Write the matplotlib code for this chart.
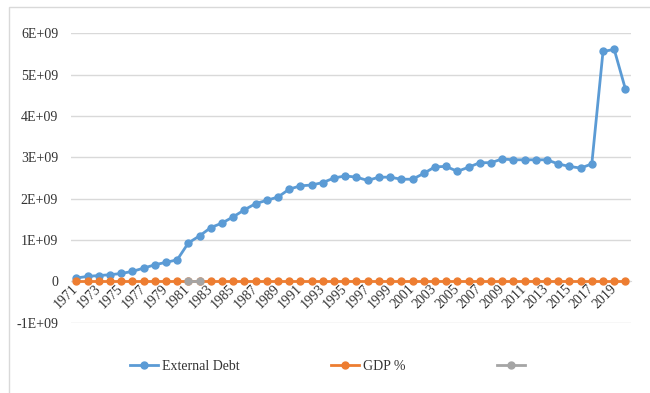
import numpy as np
import matplotlib.pyplot as plt
from matplotlib.patches import Rectangle

plt.rcParams["font.family"] = ["Liberation Serif", "DejaVu Serif"]

years = list(range(1971, 2021))

external_debt = [
    0.08, 0.12, 0.14, 0.16, 0.19, 0.24, 0.32, 0.40, 0.46, 0.52,
    0.93, 1.10, 1.30, 1.41, 1.56, 1.73, 1.88, 1.96, 2.04, 2.23,
    2.31, 2.33, 2.39, 2.50, 2.55, 2.52, 2.44, 2.52, 2.52, 2.47,
    2.47, 2.61, 2.77, 2.78, 2.66, 2.76, 2.87, 2.87, 2.96, 2.94,
    2.94, 2.94, 2.94, 2.84, 2.78, 2.74, 2.84, 5.56, 5.61, 4.65,
]
external_debt = [v * 1e9 for v in external_debt]

gdp_pct = [0.0] * len(years)

# third series only has the two early-80s entries
third = [np.nan] * len(years)
third[years.index(1981)] = 0.0
third[years.index(1982)] = 0.0

blue = "#5B9BD5"
orange = "#ED7D31"
grey = "#A5A5A5"
txt = "#333333"

fig = plt.figure(figsize=(6.5, 3.93), dpi=100)
ax = fig.add_axes([0.1088, 0.1789, 0.862, 0.7364])

x = np.arange(len(years))
ax.plot(x, external_debt, color=blue, lw=2, marker="o", ms=5, label="External Debt", zorder=3)
ax.plot(x, gdp_pct, color=orange, lw=2, marker="o", ms=5, label="GDP %", zorder=3)
ax.plot(x, third, color=grey, lw=2, marker="o", ms=5, label=" ", zorder=4)

# category axis crosses at zero (this resets the ticks, so do it first)
for s in ["top", "right", "left"]:
    ax.spines[s].set_visible(False)
ax.spines["bottom"].set_position(("data", 0))
ax.spines["bottom"].set_color("#D9D9D9")

ax.set_xlim(-0.5, len(years) - 0.5)
ax.set_ylim(-1e9, 6e9)

yt = np.arange(-1e9, 6.5e9, 1e9)
ax.set_yticks(yt)
ax.set_yticklabels(["-1E+09", "0", "1E+09", "2E+09", "3E+09", "4E+09", "5E+09", "6E+09"])
ax.grid(axis="y", color="#D9D9D9", lw=1)
ax.set_axisbelow(True)

ax.tick_params(axis="y", length=0, pad=9, labelsize=10, labelcolor=txt)
ax.tick_params(axis="x", length=0, pad=4, labelsize=10, labelcolor=txt)

ax.set_xticks(x[::2])
ax.set_xticklabels([str(y) for y in years[::2]])
plt.setp(ax.get_xticklabels(), rotation=45, ha="right", va="center",
         rotation_mode="anchor")

fig.legend(loc="center", bbox_to_anchor=(0.51, 0.068), ncol=3, frameon=False,
           fontsize=10, handlelength=2.0, columnspacing=6.6, handletextpad=0.3,
           labelcolor=txt)

# chart border
fig.patches.append(Rectangle((9 / 650, -0.1), 1.0, (393 - 7) / 393 + 0.1,
                             transform=fig.transFigure, fill=False,
                             edgecolor="#D9D9D9", lw=1))

plt.savefig("out.png", dpi=100)
